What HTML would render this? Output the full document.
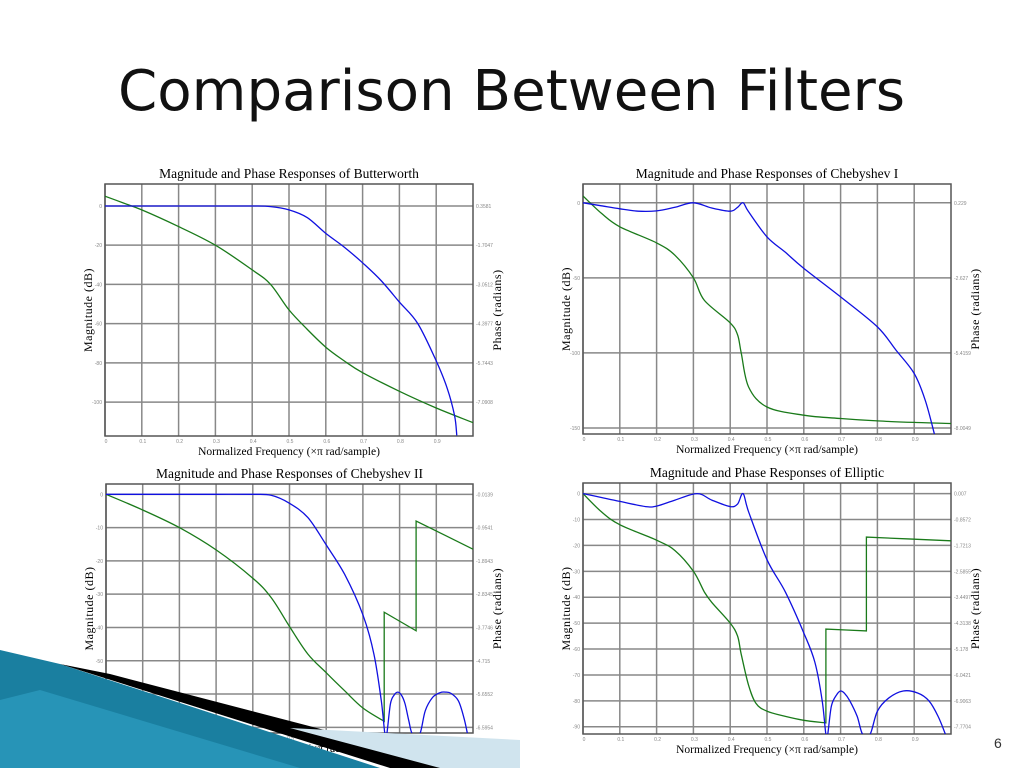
<!DOCTYPE html>
<html><head><meta charset="utf-8">
<style>
html,body{margin:0;padding:0;background:#fff;}
svg{display:block;}
</style></head>
<body>
<svg id="slide" width="1024" height="768" viewBox="0 0 1024 768" xmlns="http://www.w3.org/2000/svg">
<rect width="1024" height="768" fill="#fff"/>
<text x="118" y="110" font-family="'DejaVu Sans','Liberation Sans',sans-serif" font-size="56" fill="#111" textLength="787" lengthAdjust="spacingAndGlyphs">Comparison Between Filters</text>
<g id="charts"></g>
<g>
<polygon points="0,650 60,664 380,768 0,768" fill="#1a7fa0"/>
<polygon points="0,700 40,690 300,768 0,768" fill="#2d9cc0" opacity="0.7"/>
<polygon points="60,664 110,674 470,768 390,768" fill="#000"/>
<polygon points="290,728 520,740 520,768 440,768" fill="#d0e4ee"/>
</g>
<text x="994" y="748" font-family="'Liberation Sans',sans-serif" font-size="14" fill="#333">6</text>
</svg>
<script>
// ---- Data: Butterworth ----
const bwFreq = [0,0.1,0.2,0.3,0.4,0.45,0.5,0.55,0.6,0.65,0.7,0.75,0.8,0.85,0.9,0.93,0.95,0.956];
const bwMag  = [0,0,0,0,0,-0.3,-2,-6,-14,-21,-29,-38,-49,-60,-79,-93,-107,-117];
const bwPhFreq = [0,0.05,0.1,0.2,0.3,0.4,0.45,0.5,0.55,0.6,0.65,0.7,0.8,0.9,1.0];
const bwPh = [5,1.5,-2,-10.5,-20,-32.6,-40,-53,-63,-72,-79,-85,-94.5,-103,-110.5];
const bwLeftTicks = [0,-20,-40,-60,-80,-100];
const bwRightLabels = ["0.3581","-1.7047","-3.0512","-4.3977","-5.7443","-7.0908"];
// ---- Data: Chebyshev I ----
const c1Freq = [0,0.05,0.1,0.15,0.2,0.25,0.3,0.35,0.4,0.42,0.435,0.45,0.5,0.55,0.6,0.7,0.8,0.85,0.9,0.93,0.955];
const c1Mag  = [0,-2,-4,-5.6,-5.4,-3,0,-3.5,-5.6,-3,0,-6,-22.7,-33,-43.7,-62.7,-82.7,-98,-113.7,-131.5,-154];
const c1PhFreq = [0,0.05,0.1,0.2,0.25,0.3,0.33,0.4,0.42,0.43,0.45,0.5,0.6,0.7,0.8,0.9,1.0];
const c1Ph = [4.5,-7,-16,-26.7,-35,-50,-65,-80,-88,-100,-122.7,-136,-141.5,-143.7,-145.3,-146.3,-147];
const c1LeftTicks = [0,-50,-100,-150];
const c1RightLabels = ["0.229","-2.627","-5.4159","-8.0049"];
// ---- Data: Chebyshev II ----
const c2Freq = [0,0.1,0.2,0.3,0.4,0.45,0.5,0.55,0.6,0.65,0.7,0.73,0.75,0.76,0.765,0.775,0.785,0.795,0.805,0.815,0.825,0.835,0.855,0.87,0.89,0.91,0.925,0.94,0.96,0.975,0.985];
const c2Mag  = [0,0,0,0,0,-0.3,-2.7,-7,-15.2,-24,-36.2,-48,-62,-72,-72,-63,-60.3,-59.4,-60.3,-63,-68,-72,-72,-65,-61,-59.6,-59.4,-59.8,-62,-67,-72];
const c2PhFreq = [0,0.1,0.2,0.3,0.4,0.45,0.5,0.55,0.6,0.65,0.7,0.758,0.758,0.845,0.845,1.0];
const c2Ph = [0,-4.7,-10,-16.7,-25.2,-31,-39.7,-48,-53.6,-59,-64.2,-68.2,-35.4,-41,-8,-16.5];
const c2LeftTicks = [0,-10,-20,-30,-40,-50,-60,-70];
const c2RightLabels = ["-0.0139","-0.9541","-1.8943","-2.8345","-3.7746","-4.715","-5.6552","-6.5954"];
// ---- Data: Elliptic ----
const elFreq = [0,0.05,0.1,0.17,0.2,0.25,0.31,0.35,0.4,0.42,0.435,0.45,0.5,0.55,0.6,0.63,0.65,0.66,0.665,0.675,0.69,0.7,0.71,0.725,0.745,0.76,0.78,0.8,0.83,0.87,0.91,0.94,0.965,0.985];
const elMag  = [0,-1.5,-3,-5,-4.8,-2.5,0,-2.5,-5,-4,0,-7,-25.5,-38,-53.8,-65,-80,-93,-93,-82,-77.5,-76.2,-77,-80,-86,-93,-93,-84,-79,-76.2,-77,-80,-86,-93];
const elPhFreq = [0,0.05,0.1,0.2,0.25,0.3,0.33,0.35,0.4,0.42,0.43,0.45,0.47,0.5,0.55,0.6,0.66,0.66,0.77,0.77,1.0];
const elPh = [0,-7,-12,-18,-22,-30,-38,-42,-50,-55,-62,-74,-81,-84,-86,-87.5,-88.5,-52.3,-53,-16.8,-18.2];
const elLeftTicks = [0,-10,-20,-30,-40,-50,-60,-70,-80,-90];
const elRightLabels = ["0.007","-0.8572","-1.7213","-2.5855","-3.4497","-4.3138","-5.178","-6.0421","-6.9063","-7.7704"];
const xTickLabels = ["0","0.1","0.2","0.3","0.4","0.5","0.6","0.7","0.8","0.9"];

const charts = [
 {name:"butterworth",title:"Magnitude and Phase Responses of Butterworth",L:105,R:473,T:184,B:436,yMax:11.2,yMin:-117.3,lt:bwLeftTicks,rl:bwRightLabels,mf:bwFreq,mv:bwMag,pf:bwPhFreq,pv:bwPh,smooth:true},
 {name:"chebyshev-1",title:"Magnitude and Phase Responses of Chebyshev I",L:583,R:951,T:184,B:434,yMax:12.5,yMin:-154,lt:c1LeftTicks,rl:c1RightLabels,mf:c1Freq,mv:c1Mag,pf:c1PhFreq,pv:c1Ph,smooth:true},
 {name:"chebyshev-2",title:"Magnitude and Phase Responses of Chebyshev II",L:106,R:473,T:484,B:733,yMax:3.1,yMin:-71.7,lt:c2LeftTicks,rl:c2RightLabels,mf:c2Freq,mv:c2Mag,pf:c2PhFreq,pv:c2Ph,smooth:true},
 {name:"elliptic",title:"Magnitude and Phase Responses of Elliptic",L:583,R:951,T:483,B:734,yMax:4.1,yMin:-92.8,lt:elLeftTicks,rl:elRightLabels,mf:elFreq,mv:elMag,pf:elPhFreq,pv:elPh,smooth:true}
];
const NS="http://www.w3.org/2000/svg";
function mk(tag,attrs,parent){const e=document.createElementNS(NS,tag);for(const k in attrs)e.setAttribute(k,attrs[k]);parent.appendChild(e);return e;}
function pathFrom(xs,ys,sx,sy){
  const pts=xs.map((x,i)=>[sx(x),sy(ys[i])]);
  let d="M"+pts[0][0].toFixed(1)+","+pts[0][1].toFixed(1);
  for(let i=0;i<pts.length-1;i++){
    const p0=pts[i-1]||pts[i],p1=pts[i],p2=pts[i+1],p3=pts[i+2]||p2;
    if(Math.abs(p1[0]-p2[0])<0.5){d+=" L"+p2[0].toFixed(1)+","+p2[1].toFixed(1);continue;}
    const q0=(Math.abs(p0[0]-p1[0])<0.5)?p1:p0, q3=(Math.abs(p3[0]-p2[0])<0.5)?p2:p3;
    const c1=[p1[0]+(p2[0]-q0[0])/6,p1[1]+(p2[1]-q0[1])/6];
    const c2=[p2[0]-(q3[0]-p1[0])/6,p2[1]-(q3[1]-p1[1])/6];
    d+=" C"+c1[0].toFixed(1)+","+c1[1].toFixed(1)+" "+c2[0].toFixed(1)+","+c2[1].toFixed(1)+" "+p2[0].toFixed(1)+","+p2[1].toFixed(1);
  }
  return d;
}
const root=document.getElementById('charts');
charts.forEach(c=>{
  const g=mk('g',{},root);
  
  
  const sx=v=>c.L+(c.R-c.L)*v;
  const sy=v=>c.T+(c.B-c.T)*(c.yMax-v)/(c.yMax-c.yMin);
  const cx=(c.L+c.R)/2;
  const t=mk('text',{x:cx,y:c.T-6,'text-anchor':'middle','font-family':"'Liberation Serif',serif",'font-size':13.5,fill:'#000'},g);
  t.textContent=c.title;
  
  
  const bg=mk('rect',{x:c.L,y:c.T,width:c.R-c.L,height:c.B-c.T,fill:'#fff'},g);
  
  
  xTickLabels.forEach((lab,i)=>{
    const v=i/10, x=sx(v);
    const ln=mk('line',{x1:x,x2:x,y1:c.T,y2:c.B,stroke:'#888','stroke-width':1.5},g);
    
    
    const tx=mk('text',{x:x+1,y:c.B+7,'text-anchor':'middle','font-family':"'Liberation Sans',sans-serif",'font-size':5,fill:'#888'},g);
    tx.textContent=lab;
    
    
  });
  c.lt.forEach((v,i)=>{
    const y=sy(v);
    const ln=mk('line',{x1:c.L,x2:c.R,y1:y,y2:y,stroke:'#888','stroke-width':1.5},g);
    
    
    const tl=mk('text',{x:c.L-3,y:y+2,'text-anchor':'end','font-family':"'Liberation Sans',sans-serif",'font-size':5,fill:'#888'},g);
    tl.textContent=String(v);
    
    
    const tr=mk('text',{x:c.R+3,y:y+2,'font-family':"'Liberation Sans',sans-serif",'font-size':5,fill:'#888'},g);
    tr.textContent=c.rl[i];
    
    
  });
  const fr=mk('rect',{x:c.L,y:c.T,width:c.R-c.L,height:c.B-c.T,fill:'none',stroke:'#555','stroke-width':1.5},g);
  
  
  const cp=mk('clipPath',{id:'clip-'+c.name},g);
  mk('rect',{x:c.L,y:c.T,width:c.R-c.L,height:c.B-c.T},cp);
  const ph=mk('path',{d:pathFrom(c.pf,c.pv,sx,sy),fill:'none',stroke:'#1a7a1a','stroke-width':1.3,'clip-path':'url(#clip-'+c.name+')'},g);
  
  
  const mg=mk('path',{d:pathFrom(c.mf,c.mv,sx,sy),fill:'none',stroke:'#1010e0','stroke-width':1.3,'clip-path':'url(#clip-'+c.name+')'},g);
  
  
  const xl=mk('text',{x:cx,y:c.B+19,'text-anchor':'middle','font-family':"'Liberation Serif',serif",'font-size':11.5,fill:'#000'},g);
  xl.textContent="Normalized Frequency (\u00d7\u03c0 rad/sample)";
  
  
  const my=(c.T+c.B)/2;
  const yl=mk('text',{x:0,y:0,transform:`translate(${c.L-13},${my}) rotate(-90)`,'text-anchor':'middle','font-family':"'Liberation Serif',serif",'font-size':12,fill:'#000','letter-spacing':'0.5'},g);
  yl.textContent="Magnitude (dB)";
  
  
  const yr=mk('text',{x:0,y:0,transform:`translate(${c.R+28},${my}) rotate(-90)`,'text-anchor':'middle','font-family':"'Liberation Serif',serif",'font-size':12,fill:'#000','letter-spacing':'0.5'},g);
  yr.textContent="Phase (radians)";
  
  
});
</script>
</body></html>
